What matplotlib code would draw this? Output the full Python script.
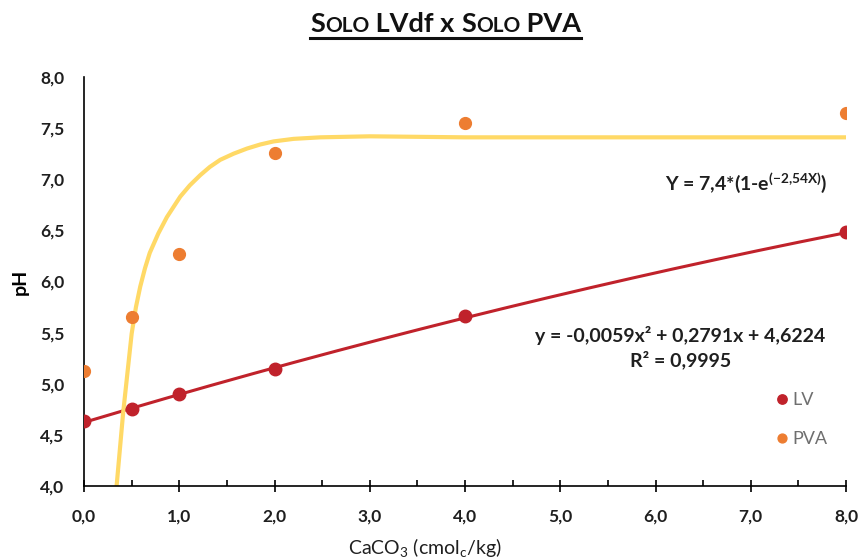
import numpy as np
import matplotlib
matplotlib.use('Agg')
import matplotlib.pyplot as plt
from matplotlib.offsetbox import TextArea, HPacker, AnchoredOffsetbox
from matplotlib.lines import Line2D

plt.rcParams['font.family'] = ['Lato', 'DejaVu Sans']
plt.rcParams['mathtext.fontset'] = 'custom'
plt.rcParams['mathtext.rm'] = 'Lato'
plt.rcParams['mathtext.bf'] = 'Lato:bold'
plt.rcParams['mathtext.it'] = 'Lato:italic'
plt.rcParams['mathtext.default'] = 'regular'

# data
doses = [0, 0.5, 1, 2, 4, 8]
ph_lv = [4.64, 4.75, 4.90, 5.14, 5.66, 6.48]
ph_pva = [5.12, 5.65, 6.27, 7.26, 7.55, 7.65]

# quadratic trendline coefficients shown on the chart (LV)
lv_coef = [-0.0059, 0.2791, 4.6224]

# exponential fit line for PVA
pva_fit_x = [0.34, 0.41, 0.50, 0.545, 0.59, 0.64, 0.69, 0.78, 0.87, 1.01, 1.11, 1.22, 1.32, 1.43,
             1.57, 1.71, 1.85, 1.99, 2.20, 2.48, 3.0, 4.0, 5.0, 6.0, 7.0, 8.0]
pva_fit_y = [3.98, 4.71, 5.49, 5.75, 5.95, 6.13, 6.28, 6.47, 6.63, 6.83, 6.94, 7.04, 7.12, 7.19,
             7.25, 7.30, 7.34, 7.37, 7.395, 7.41, 7.42, 7.41, 7.41, 7.41, 7.41, 7.41]

xticks = [0, 1, 2, 3, 4, 5, 6, 7, 8]
yticks = [4.0, 4.5, 5.0, 5.5, 6.0, 6.5, 7.0, 7.5, 8.0]

c_red = '#C0222B'
c_orange = '#ED7D31'
c_yellow = '#FFD966'
c_text = '#1f1f1f'

fig = plt.figure(figsize=(8.61, 5.60), dpi=100)
ax = fig.add_axes([0.0976, 0.1321, 0.885, 0.7304])

xs = np.linspace(0, 8, 200)
ax.plot(xs, np.polyval(lv_coef, xs), color=c_red, lw=2.2, zorder=2)
ax.plot(pva_fit_x, pva_fit_y, color=c_yellow, lw=3.0, zorder=2,
        solid_capstyle='butt', solid_joinstyle='round')

ax.plot(doses, ph_lv, 'o', color=c_red, ms=9, zorder=4, label='LV')
ax.plot(doses, ph_pva, 'o', color=c_orange, ms=8.5, zorder=3, label='PVA')

ax.set_xlim(0, 8)
ax.set_ylim(4, 8)
ax.set_xticks(xticks)
ax.set_xticklabels([f'{v:.1f}'.replace('.', ',') for v in xticks], fontsize=12.5, fontweight='bold', color=c_text)
ax.set_xticks(np.arange(0.5, 8, 1.0), minor=True)
ax.set_yticks(yticks)
ax.set_yticklabels([f'{v:.1f}'.replace('.', ',') for v in yticks], fontsize=12.5, fontweight='bold', color=c_text)

ax.spines['top'].set_visible(False)
ax.spines['right'].set_visible(False)
ax.spines['left'].set_linewidth(1.2)
ax.spines['bottom'].set_linewidth(1.2)
ax.tick_params(axis='x', which='major', direction='inout', length=9, width=1.2, pad=12)
ax.tick_params(axis='x', which='minor', direction='in', length=4, width=1.2)
ax.tick_params(axis='y', length=0, pad=14)
for sp in ax.spines.values():
    sp.set_clip_on(False)

ax.set_ylabel('pH', fontsize=14, fontweight='bold', labelpad=8)
ax.set_xlabel(r'CaCO$_3$ (cmol$_c$/kg)', fontsize=14, color=c_text, labelpad=8, x=0.4475)

ax.text(6.95, 6.96, r'Y = 7,4*(1-e$^{\mathbf{(-2{,}54X)}}$)', fontsize=14, fontweight='bold',
        ha='center', va='center', color=c_text)
ax.text(6.26, 5.47, 'y = -0,0059x² + 0,2791x + 4,6224', fontsize=14, fontweight='bold',
        ha='center', va='center', color=c_text)
ax.text(6.26, 5.23, 'R² = 0,9995', fontsize=14, fontweight='bold',
        ha='center', va='center', color=c_text)

leg = ax.legend(loc='upper left', bbox_to_anchor=(0.887, 0.27), frameon=False, fontsize=13,
                handlelength=0.6, handletextpad=0.3, labelspacing=1.3, markerscale=0.75)
for t in leg.get_texts():
    t.set_color('#6f6f6f')

# title with small caps, underlined
big, small = 19.5, 15
parts = [('S', big), ('OLO', small), (' LVdf x ', big), ('S', big), ('OLO', small), (' PVA', big)]
areas = [TextArea(s, textprops=dict(fontsize=sz, fontweight='bold', color='#111111')) for s, sz in parts]
box = HPacker(children=areas, align='baseline', pad=0, sep=0)
anch = AnchoredOffsetbox(loc='center', child=box, bbox_to_anchor=(0.518, 0.958),
                         bbox_transform=fig.transFigure, frameon=False, pad=0, borderpad=0)
fig.add_artist(anch)

fig.canvas.draw()
bb = anch.get_window_extent(fig.canvas.get_renderer())
inv = fig.transFigure.inverted()
(x0, y0), (x1, y1) = inv.transform([(bb.x0, bb.y0), (bb.x1, bb.y0)])
fig.add_artist(Line2D([x0, x1], [y0 - 0.004, y0 - 0.004], transform=fig.transFigure, color='#111111', lw=2.2))

fig.savefig('out.png', dpi=100)
